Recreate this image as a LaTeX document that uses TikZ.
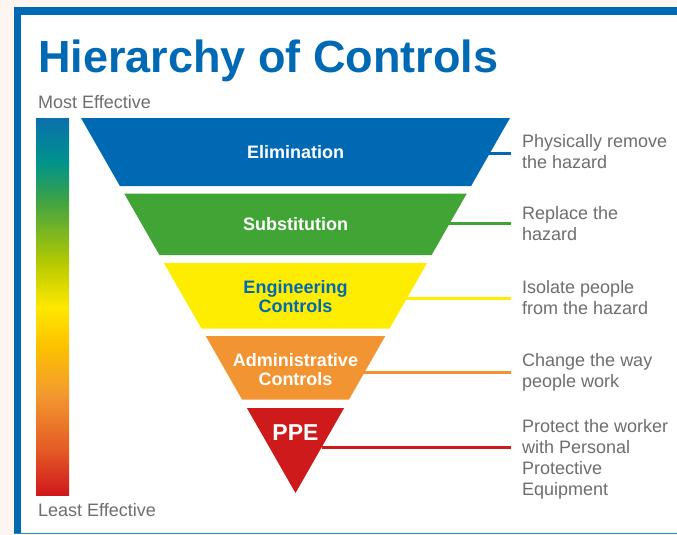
\documentclass[tikz,border=0pt]{standalone}
\usepackage{fontspec}
\setmainfont{Liberation Sans}
\usetikzlibrary{positioning}
\usetikzlibrary{calc}
\definecolor{hocblue}{HTML}{0069B4}
\definecolor{hocgreen}{HTML}{40A535}
\definecolor{hocyellow}{HTML}{FFED00}
\definecolor{hocorange}{HTML}{F39432}
\definecolor{hocred}{HTML}{CE1A1B}
\definecolor{hocgray}{HTML}{6E6E6E}
\definecolor{hoccream}{HTML}{FDF6F0}
\definecolor{hocframe}{HTML}{2E86CC}
% gradient stops of the effectiveness bar
\definecolor{gA}{HTML}{0A6FAE}
\definecolor{gB}{HTML}{00948A}
\definecolor{gC}{HTML}{3DA244}
\definecolor{gD}{HTML}{B7CA00}
\definecolor{gE}{HTML}{FFE800}
\definecolor{gF}{HTML}{FDC100}
\definecolor{gG}{HTML}{F39A2E}
\definecolor{gH}{HTML}{E45A25}
\definecolor{gI}{HTML}{CF171C}
\tikzset{
  bandtext/.style = { font=\bfseries\fontsize{18}{19}\selectfont, text=white, align=center, inner sep=0pt },
  desc/.style     = { font=\fontsize{18}{21}\selectfont, text=hocgray, align=left, inner xsep=11pt, inner ysep=0pt, anchor=north west },
  effect/.style   = { font=\fontsize{18}{21}\selectfont, text=hocgray, inner sep=0pt, anchor=base west },
  link/.style     = { line width=3pt },
}
\begin{document}
\begin{tikzpicture}[x=1pt,y=-1pt]
  \useasboundingbox (0,0) rectangle (677,535);

  % frame
  \fill[hoccream] (0,0) rectangle (677,535);
  \fill[white]    (14,7.5) rectangle (677,534);
  \fill[hocblue]  (14,7.5) rectangle (677,15.5);
  \fill[hocblue]  (14,7.5) rectangle (20.5,534);
  \draw[hocframe,line width=1.5pt] (14,533.5) -- (677,533.5);

  \node (title) [anchor=base west,inner sep=0pt,text=hocblue,font=\bfseries\fontsize{45}{50}\selectfont] at (38,72) {Hierarchy of Controls};

  % effectiveness bar
  \node (most)  [effect] at (38,108) {Most Effective};
  \node (least) [effect] at (38,516) {Least Effective};
  \foreach \ya/\yb/\ca/\cb in {118/163/gA/gB, 163/200/gB/gC, 200/263/gC/gD, 263/307/gD/gE,
                               307/347/gE/gF, 347/393/gF/gG, 393/450/gG/gH, 450/495/gH/gI}
    \shade[top color=\ca,bottom color=\cb] (36,\ya) rectangle (69,\yb+0.5);

  % bands of the pyramid
  \fill[hocblue]   (81,118)      -- (510,118)      -- (471.1,186)   -- (119.9,186)   -- cycle;
  \fill[hocgreen]  (124.2,193.5) -- (466.8,193.5)  -- (431.6,255)   -- (159.4,255)   -- cycle;
  \fill[hocyellow] (163.9,263)   -- (427.1,263)    -- (389.6,328.5) -- (201.4,328.5) -- cycle;
  \fill[hocorange] (205.7,336)   -- (385.3,336)    -- (349,399.5)   -- (242,399.5)   -- cycle;
  \fill[hocred]    (246.9,408)   -- (344.1,408)    -- (295.5,493)   -- cycle;

  \node (elim)  [bandtext,anchor=base] at (295.5,158.3) {Elimination};
  \node (subst) [bandtext,anchor=base] at (295.5,230.5) {Substitution};
  \node (eng)   [bandtext,anchor=north,text=hocblue] at (295.5,280) {Engineering\\Controls};
  \node (admin) [bandtext,anchor=north] at (295.5,353) {Administrative\\Controls};
  \node (ppe)   [bandtext,anchor=base,font=\bfseries\fontsize{23}{24}\selectfont] at (295.5,440.7) {PPE};

  % descriptions
  \node (elimdesc)  [desc] at (511,134) {Physically remove\\the hazard};
  \node (substdesc) [desc] at (511,206) {Replace the\\hazard};
  \node (engdesc)   [desc] at (511,280) {Isolate people\\from the hazard};
  \node (admindesc) [desc] at (511,353) {Change the way\\people work};
  \node (ppedesc)   [desc] at (511,419) {Protect the worker\\with Personal\\Protective\\Equipment};

  % connectors
  \coordinate (elim-side)  at (486,153);
  \coordinate (subst-side) at (446,223);
  \coordinate (eng-side)   at (403,298);
  \coordinate (admin-side) at (360,372);
  \coordinate (ppe-side)   at (322,447);
  \draw[link,hocblue]   (elim-side)  -- (elim-side -| elimdesc.west);
  \draw[link,hocgreen]  (subst-side) -- (subst-side -| substdesc.west);
  \draw[link,hocyellow] (eng-side)   -- (eng-side -| engdesc.west);
  \draw[link,hocorange] (admin-side) -- (admin-side -| admindesc.west);
  \draw[link,hocred]    (ppe-side)   -- (ppe-side -| ppedesc.west);
\end{tikzpicture}
\end{document}
